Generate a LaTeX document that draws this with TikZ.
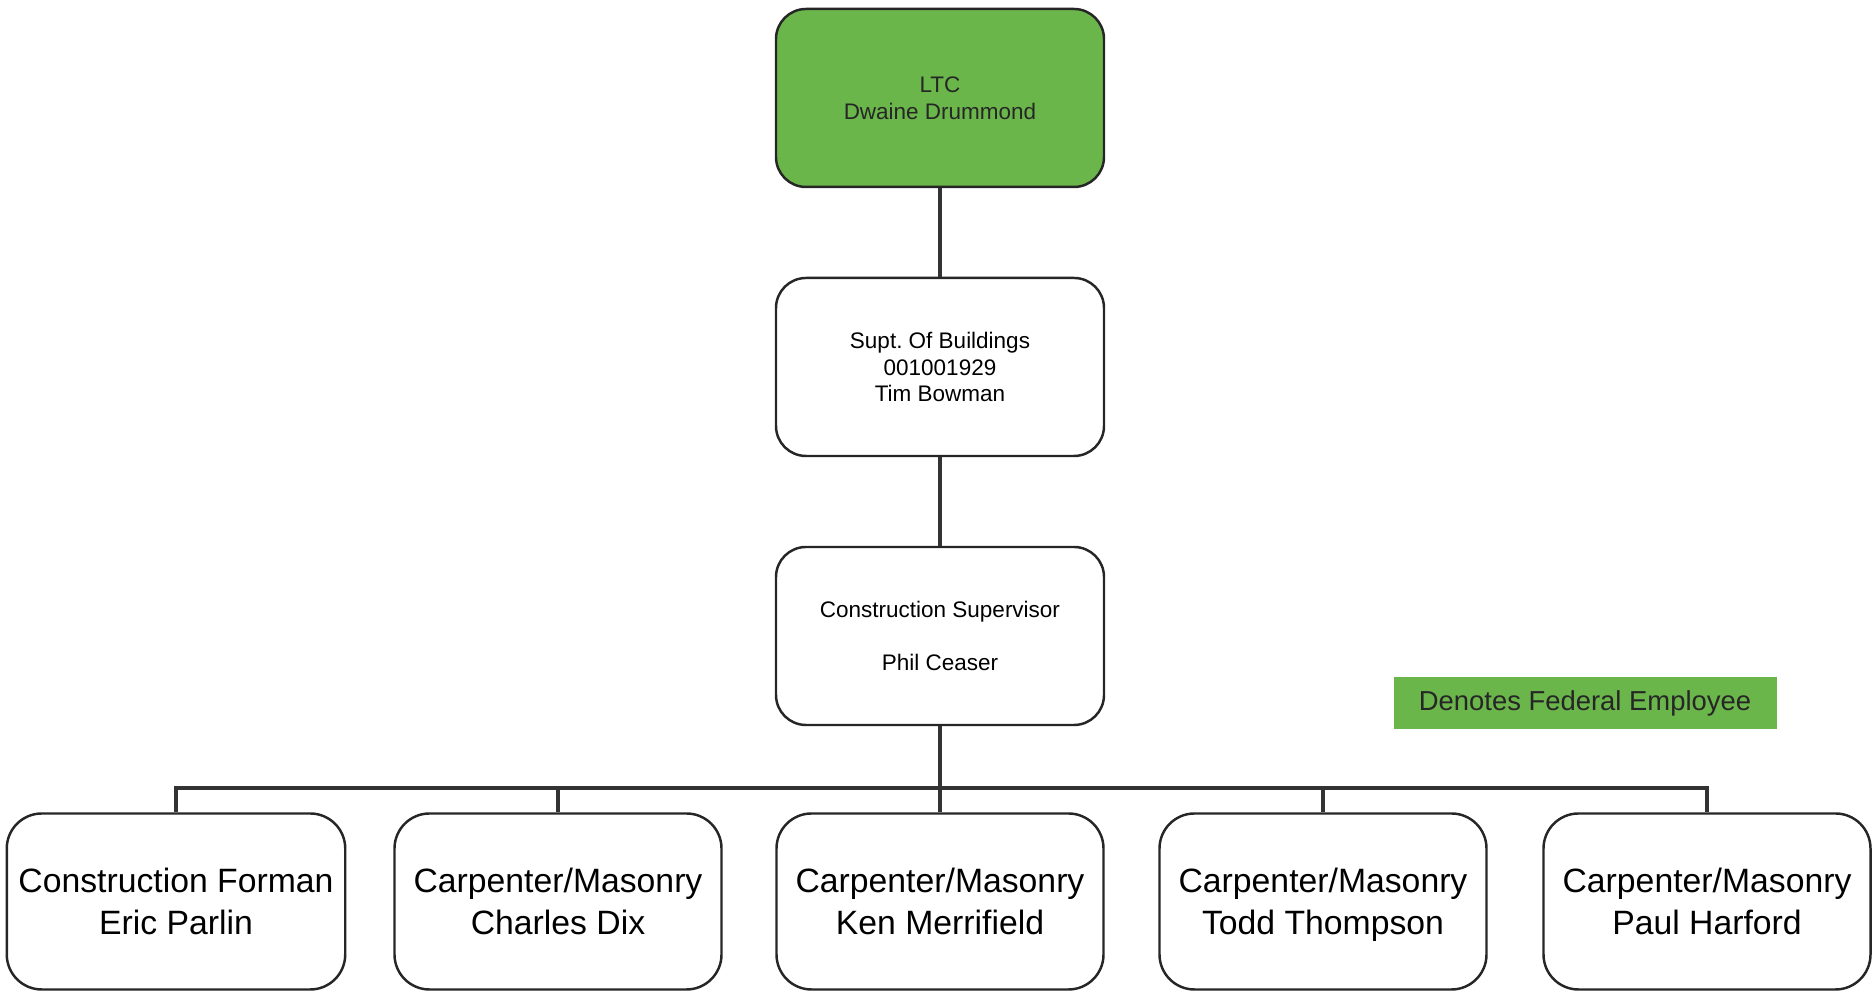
\documentclass[tikz,border=0pt]{standalone}
\usepackage{fontspec}
\setmainfont{Liberation Sans}
\frenchspacing
\definecolor{fedgreen}{RGB}{106,182,74}
\definecolor{linegray}{RGB}{51,51,51}

\begin{document}
\begin{tikzpicture}[
	boss/.style={rectangle, rounded corners=0.3cm, draw=black!85, line width=0.7pt, minimum width=3.28cm, minimum height=1.78cm, align=center, font=\fontsize{6.4}{7.6}\selectfont},
	crew/.style={rectangle, rounded corners=0.35cm, draw=black!85, line width=0.7pt, minimum width=3.27cm, minimum height=1.76cm, align=center, font=\fontsize{9.6}{11.9}\selectfont},
	link/.style={draw=linegray, line width=1.2pt}]
	\useasboundingbox (0,0) rectangle (18.76,9.91);
	\node at (9.40,8.93) [boss, fill=fedgreen, text=black!85] (ltc) {LTC\\Dwaine Drummond};
	\node at (9.40,6.24) [boss] (supt) {Supt. Of Buildings\\001001929\\Tim Bowman};
	\node at (9.40,3.55) [boss] (supv) {Construction Supervisor\\[7.5pt]Phil Ceaser};
	\node at (15.85,2.88) [rectangle, fill=fedgreen, minimum width=3.83cm, minimum height=0.52cm, text=black!85, font=\fontsize{7.8}{9}\selectfont] (fed) {Denotes Federal Employee};
	\node at (1.76,0.895) [crew] (k1) {Construction Forman\\Eric Parlin};
	\node at (5.58,0.895) [crew] (k2) {Carpenter/Masonry\\Charles Dix};
	\node at (9.40,0.895) [crew] (k3) {Carpenter/Masonry\\Ken Merrifield};
	\node at (13.23,0.895) [crew] (k4) {Carpenter/Masonry\\Todd Thom\smash{p}son};
	\node at (17.07,0.895) [crew] (k5) {Carpenter/Masonry\\Paul Harford};
	\coordinate (bus) at (9.40,2.03);

	\draw [link] (ltc) -- (supt);
	\draw [link] (supt) -- (supv);
	\draw [link] (supv.south) -- (bus);
	\draw [link] (bus) -| (k1.north);
	\draw [link] (bus) -| (k2.north);
	\draw [link] (bus) -- (k3.north);
	\draw [link] (bus) -| (k4.north);
	\draw [link] (bus) -| (k5.north);
\end{tikzpicture}
\end{document}
